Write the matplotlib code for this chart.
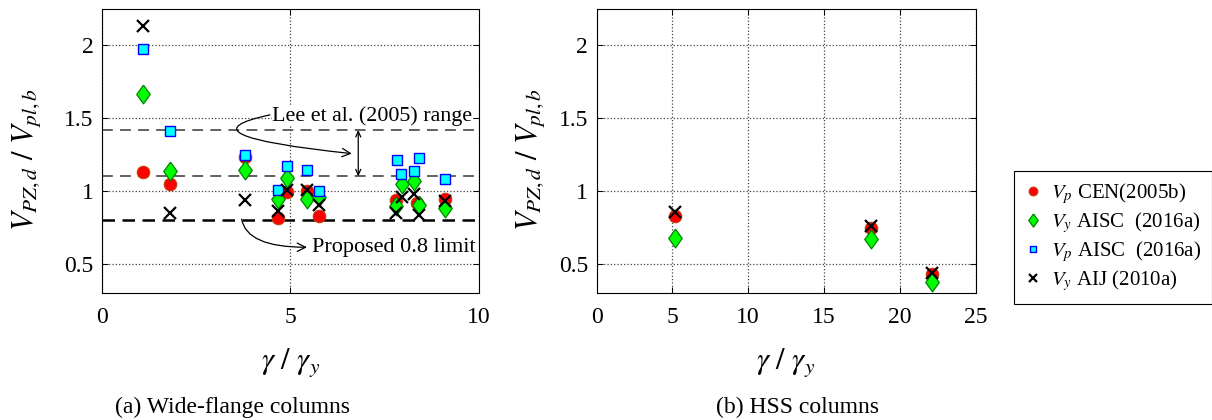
import matplotlib
matplotlib.use("Agg")
import matplotlib.pyplot as plt
from matplotlib.ticker import MultipleLocator

plt.rcParams["font.family"] = ["Liberation Serif", "DejaVu Serif"]
plt.rcParams["mathtext.fontset"] = "stix"

# --------------------------  Data  -------------------------------------------

# (a) Wide-flange columns
wf_cen_x = [1.10, 1.82, 3.80, 4.66, 4.92, 5.44, 5.77, 7.81, 8.35, 9.09]
wf_cen_y = [1.13, 1.05, 1.235, 0.815, 0.99, 1.00, 0.83, 0.94, 0.92, 0.943]

wf_vy_aisc_x = [1.10, 1.82, 3.80, 4.66, 4.92, 5.44, 5.77, 7.81, 7.95, 8.29, 8.42, 9.09]
wf_vy_aisc_y = [1.665, 1.14, 1.145, 0.943, 1.09, 0.945, 0.96, 0.90, 1.05, 1.068, 0.905, 0.886]

wf_vp_aisc_x = [1.10, 1.82, 3.80, 4.66, 4.92, 5.44, 5.77, 7.83, 7.94, 8.29, 8.42, 9.09]
wf_vp_aisc_y = [1.977, 1.414, 1.25, 1.005, 1.175, 1.143, 1.00, 1.211, 1.114, 1.136, 1.227, 1.08]

wf_aij_x = [1.10, 1.82, 3.80, 4.66, 4.92, 5.44, 5.77, 7.81, 7.95, 8.29, 8.42, 9.09]
wf_aij_y = [2.13, 0.848, 0.939, 0.864, 1.007, 1.007, 0.903, 0.85, 0.96, 0.977, 0.834, 0.932]

# (b) HSS columns
hss_x = [5.17, 18.1, 22.1]
hss_cen_y = [0.83, 0.748, 0.432]
hss_vy_aisc_y = [0.675, 0.67, 0.375]
hss_aij_y = [0.853, 0.757, 0.435]

lee_range = [1.42, 1.10]
proposed_limit = 0.8

labels = [r"$V_p$ CEN(2005b)", r"$V_y$ AISC  (2016a)",
          r"$V_p$ AISC  (2016a)", r"$V_y$ AIJ (2010a)"]

# --------------------------  Styles  -----------------------------------------

# wider diamond than matplotlib's "d"
DIAMOND = [(0, 1), (0.72, 0), (0, -1), (-0.72, 0), (0, 1)]

CIRC = dict(marker="o", ls="none", ms=9, mfc="#ff0000", mec="#c04010", mew=0.8)
DIAM = dict(marker=DIAMOND, ls="none", ms=13.5, mfc="#00ff00", mec="#008000", mew=0.9)
SQR = dict(marker="s", ls="none", ms=7, mfc="#00ffff", mec="#0000ff", mew=1.0)
CROSS = dict(marker="x", ls="none", ms=8, color="black", mew=1.6)


def style_axes(ax, xlim, xstep):
    ax.set_xlim(*xlim)
    ax.set_ylim(0.3, 2.25)
    ax.xaxis.set_major_locator(MultipleLocator(xstep))
    ax.set_yticks([0.5, 1, 1.5, 2])
    ax.set_yticklabels(["0.5", "1", "1.5", "2"])
    ax.grid(True, ls=":", color="#444444", lw=0.9)
    ax.tick_params(direction="in", top=True, right=True, labelsize=17,
                   length=4, width=0.7)
    ax.tick_params(axis="x", pad=10)
    ax.tick_params(axis="y", pad=6)
    for s in ax.spines.values():
        s.set_linewidth(0.8)
    ax.set_xlabel(r"$\gamma\ /\ \gamma_y$", fontsize=22)
    ax.xaxis.label.set_va("center")
    ax.xaxis.set_label_coords(0.5, -0.245)
    ax.set_ylabel(r"$V_{PZ,d}\ /\ V_{pl,b}$", fontsize=22)
    ax.yaxis.label.set_va("center")


fig = plt.figure(figsize=(12.12, 4.2), dpi=100)
ax1 = fig.add_axes([0.0839, 0.3024, 0.3113, 0.6762])
ax2 = fig.add_axes([0.4922, 0.3024, 0.3127, 0.6762])

# --------------------------  (a) Wide-flange  --------------------------------

style_axes(ax1, (0, 10), 5)
ax1.yaxis.set_label_coords(-0.2, 0.47)

ax1.axhline(lee_range[0], color="#555555", ls=(0, (6, 4)), lw=1.3, zorder=2)
ax1.axhline(lee_range[1], color="#555555", ls=(0, (6, 4)), lw=1.3, zorder=2)
ax1.axhline(proposed_limit, color="black", ls=(0, (5, 3)), lw=1.8, zorder=2)

h1, = ax1.plot(wf_cen_x, wf_cen_y, **CIRC, zorder=3)
h2, = ax1.plot(wf_vy_aisc_x, wf_vy_aisc_y, **DIAM, zorder=4)
h3, = ax1.plot(wf_vp_aisc_x, wf_vp_aisc_y, **SQR, zorder=5)
h4, = ax1.plot(wf_aij_x, wf_aij_y, **CROSS, zorder=6)

ax1.text(4.52, 1.516, "Lee et al. (2005) range", fontsize=15.8, ha="left",
         va="center", zorder=7,
         bbox=dict(fc="white", ec="none", pad=0.5))
ax1.annotate("", xy=(6.63, 1.257), xytext=(4.46, 1.523),
             arrowprops=dict(arrowstyle="->,head_length=0.6,head_width=0.3",
                             lw=0.9, color="black",
                             connectionstyle="angle3,angleA=12,angleB=-6",
                             shrinkA=0, shrinkB=0), zorder=7)
ax1.annotate("", xy=(6.8, 1.10), xytext=(6.8, 1.42),
             arrowprops=dict(arrowstyle="<->,head_length=0.4,head_width=0.18",
                             lw=0.9, color="black", shrinkA=0, shrinkB=0),
             zorder=7)

ax1.text(5.57, 0.614, "Proposed 0.8 limit", fontsize=16, ha="left",
         va="center", zorder=7)
ax1.annotate("", xy=(5.44, 0.614), xytext=(3.71, 0.807),
             arrowprops=dict(arrowstyle="->,head_length=0.6,head_width=0.3",
                             lw=0.9, color="black",
                             connectionstyle="angle3,angleA=-80,angleB=0",
                             shrinkA=0, shrinkB=0), zorder=7)

# --------------------------  (b) HSS  ----------------------------------------

style_axes(ax2, (0, 25), 5)
ax2.yaxis.set_label_coords(-0.175, 0.47)

ax2.plot(hss_x, hss_cen_y, **CIRC, zorder=3)
ax2.plot(hss_x, hss_vy_aisc_y, **DIAM, zorder=4)
ax2.plot(hss_x, hss_aij_y, **CROSS, zorder=6)

# --------------------------  Legend & captions  ------------------------------

leg = fig.legend([h1, h2, h3, h4], labels, loc="upper left",
                 bbox_to_anchor=(0.8366, 0.5936), fontsize=15,
                 frameon=True, fancybox=False, edgecolor="black",
                 framealpha=1, handlelength=0.8, handletextpad=0.5,
                 labelspacing=0.2, borderpad=0.5, markerscale=0.7,
                 borderaxespad=0)
leg.get_frame().set_linewidth(0.8)

fig.text(232 / 1212, 1 - 407 / 420, "(a) Wide-flange columns", fontsize=17,
         ha="center", va="center")
fig.text(798 / 1212, 1 - 407 / 420, "(b) HSS columns", fontsize=17,
         ha="center", va="center")

fig.savefig("out.png", dpi=100)
